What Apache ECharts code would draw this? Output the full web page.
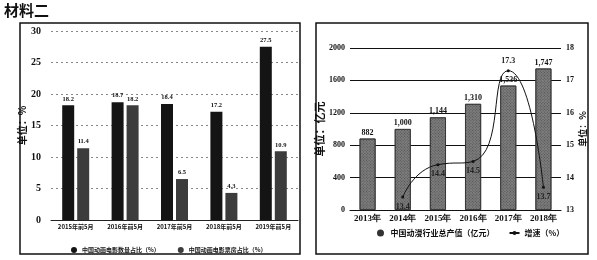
<!DOCTYPE html>
<html><head><meta charset="utf-8">
<script src="https://cdn.jsdelivr.net/npm/echarts@6/dist/echarts.min.js"></script>
<style>html,body{margin:0;padding:0;background:#fff}#c{width:597px;height:260px}</style>
</head><body><div id="c"></div>
<script>
const leftCategories = ['2015年前5月','2016年前5月','2017年前5月','2018年前5月','2019年前5月'];
const filmCountShare = [18.2, 18.7, 18.4, 17.2, 27.5];
const boxOfficeShare = [11.4, 18.2, 6.5, 4.3, 10.9];
const leftTicks = {min: 0, max: 30, interval: 5};

const rightCategories = ['2013年','2014年','2015年','2016年','2017年','2018年'];
const outputValue = [882, 1000, 1144, 1310, 1536, 1747];
const growthRate = [null, 13.4, 14.4, 14.5, 17.3, 13.7];
const rightTicksL = {min: 0, max: 2000, interval: 400};
const rightTicksR = {min: 13, max: 18, interval: 1};

const serif = '"Liberation Serif", "DejaVu Serif", serif';
const cjk = '"Noto Sans CJK SC", sans-serif';

const chart = echarts.init(document.getElementById('c'));
chart.setOption({
  animation: false,
  backgroundColor: '#fff',
  graphic: [
    {type: 'text', left: 4, top: 3, style: {text: '材料二', font: 'bold 15px "Noto Sans CJK SC"', fill: '#111'}},
    {type: 'rect', shape: {x: 20, y: 23, width: 280, height: 231}, style: {fill: 'none', stroke: '#111', lineWidth: 1.5}},
    {type: 'rect', shape: {x: 316, y: 23, width: 272, height: 231}, style: {fill: 'none', stroke: '#111', lineWidth: 1.5}}
  ],
  legend: [
    {
      left: 66, top: 242, itemWidth: 6, itemHeight: 6, itemGap: 18, icon: 'circle',
      textStyle: {fontSize: 6, fontWeight: 'bold', fontFamily: cjk, color: '#111'},
      data: [
        {name: '中国动画电影数量占比（%）'},
        {name: '中国动画电影票房占比（%）'}
      ]
    },
    {
      left: 372, top: 224, itemWidth: 10, itemHeight: 5, itemGap: 14,
      textStyle: {fontSize: 8, fontWeight: 'bold', fontFamily: cjk, color: '#111'},
      data: [
        {name: '中国动漫行业总产值（亿元）', icon: 'circle', itemStyle: {color: '#333', decal: 'none'}},
        {name: '增速（%）'}
      ]
    }
  ],
  grid: [
    {left: 51, top: 31, width: 247, height: 189},
    {left: 350, top: 48, width: 211, height: 162}
  ],
  xAxis: [
    {
      gridIndex: 0, type: 'category', data: leftCategories,
      axisLine: {lineStyle: {color: '#222', width: 1}}, axisTick: {show: false},
      axisLabel: {interval: 0, fontSize: 6, fontWeight: 'bold', fontFamily: cjk, color: '#111', margin: 4}
    },
    {
      gridIndex: 1, type: 'category', data: rightCategories,
      axisLine: {lineStyle: {color: '#111', width: 1.2}}, axisTick: {show: false},
      axisLabel: {interval: 0, fontSize: 9, fontWeight: 'bold', fontFamily: serif, color: '#111', margin: 4}
    }
  ],
  yAxis: [
    {
      gridIndex: 0, type: 'value', min: leftTicks.min, max: leftTicks.max, interval: leftTicks.interval,
      name: '单位：%', nameLocation: 'middle', nameGap: 17, nameRotate: 90,
      nameTextStyle: {fontSize: 10, fontWeight: 'bold', fontFamily: cjk, color: '#111'},
      axisLine: {show: false}, axisTick: {show: false},
      axisLabel: {fontSize: 10, fontWeight: 'bold', fontFamily: serif, color: '#111', margin: 10, formatter: v => String(v)},
      splitLine: {lineStyle: {color: '#888', type: [2, 3], width: 1}}
    },
    {
      gridIndex: 1, type: 'value', min: rightTicksL.min, max: rightTicksL.max, interval: rightTicksL.interval,
      name: '单位：亿元', nameLocation: 'middle', nameGap: 24, nameRotate: 90,
      nameTextStyle: {fontSize: 11, fontWeight: 'bold', fontFamily: cjk, color: '#111'},
      axisLine: {show: false}, axisTick: {show: false},
      axisLabel: {fontSize: 8, fontWeight: 'bold', fontFamily: serif, color: '#111', margin: 5, formatter: v => String(v)},
      splitLine: {lineStyle: {color: '#111', width: 1}}
    },
    {
      gridIndex: 1, type: 'value', position: 'right', min: rightTicksR.min, max: rightTicksR.max, interval: rightTicksR.interval,
      name: '单位：%', nameLocation: 'middle', nameGap: 16, nameRotate: 90,
      nameTextStyle: {fontSize: 9, fontWeight: 'bold', fontFamily: cjk, color: '#111'},
      axisLine: {show: false}, axisTick: {show: false},
      axisLabel: {fontSize: 8, fontWeight: 'bold', fontFamily: serif, color: '#111', margin: 5, formatter: v => String(v)},
      splitLine: {show: false}
    }
  ],
  series: [
    {
      name: '中国动画电影数量占比（%）', type: 'bar', xAxisIndex: 0, yAxisIndex: 0,
      data: filmCountShare, barWidth: 12, barGap: '25%',
      itemStyle: {color: '#141414'},
      label: {show: true, position: 'top', distance: 3, fontSize: 6.5, fontWeight: 'bold', fontFamily: serif, color: '#111'}
    },
    {
      name: '中国动画电影票房占比（%）', type: 'bar', xAxisIndex: 0, yAxisIndex: 0,
      data: boxOfficeShare, barWidth: 12,
      itemStyle: {color: '#3c3c3c'},
      label: {show: true, position: 'top', distance: 3, fontSize: 6.5, fontWeight: 'bold', fontFamily: serif, color: '#111'}
    },
    {
      name: '中国动漫行业总产值（亿元）', type: 'bar', xAxisIndex: 1, yAxisIndex: 1,
      data: outputValue, barWidth: 16,
      itemStyle: {color: '#7d7d7d', borderColor: '#333', borderWidth: 0.8,
        decal: {symbol: 'rect', symbolSize: 1, color: 'rgba(30,30,30,0.45)', dashArrayX: [1, 1], dashArrayY: [1, 1], rotation: 0.785}},
      label: {show: true, position: 'top', distance: 2, fontSize: 8, fontWeight: 'bold', fontFamily: serif, color: '#111',
        formatter: p => p.value.toLocaleString('en-US')}
    },
    {
      name: '增速（%）', type: 'line', xAxisIndex: 1, yAxisIndex: 2,
      data: growthRate.map((v, i) => v === null ? null : (i === 4 ? {value: v, label: {position: 'top'}} : v)),
      smooth: 0.6, symbol: 'circle', symbolSize: 3,
      lineStyle: {color: '#111', width: 1}, itemStyle: {color: '#111'},
      label: {show: true, position: 'bottom', distance: 4, fontSize: 8, fontWeight: 'bold', fontFamily: serif, color: '#222'},
      z: 5
    }
  ]
});
</script></body></html>
